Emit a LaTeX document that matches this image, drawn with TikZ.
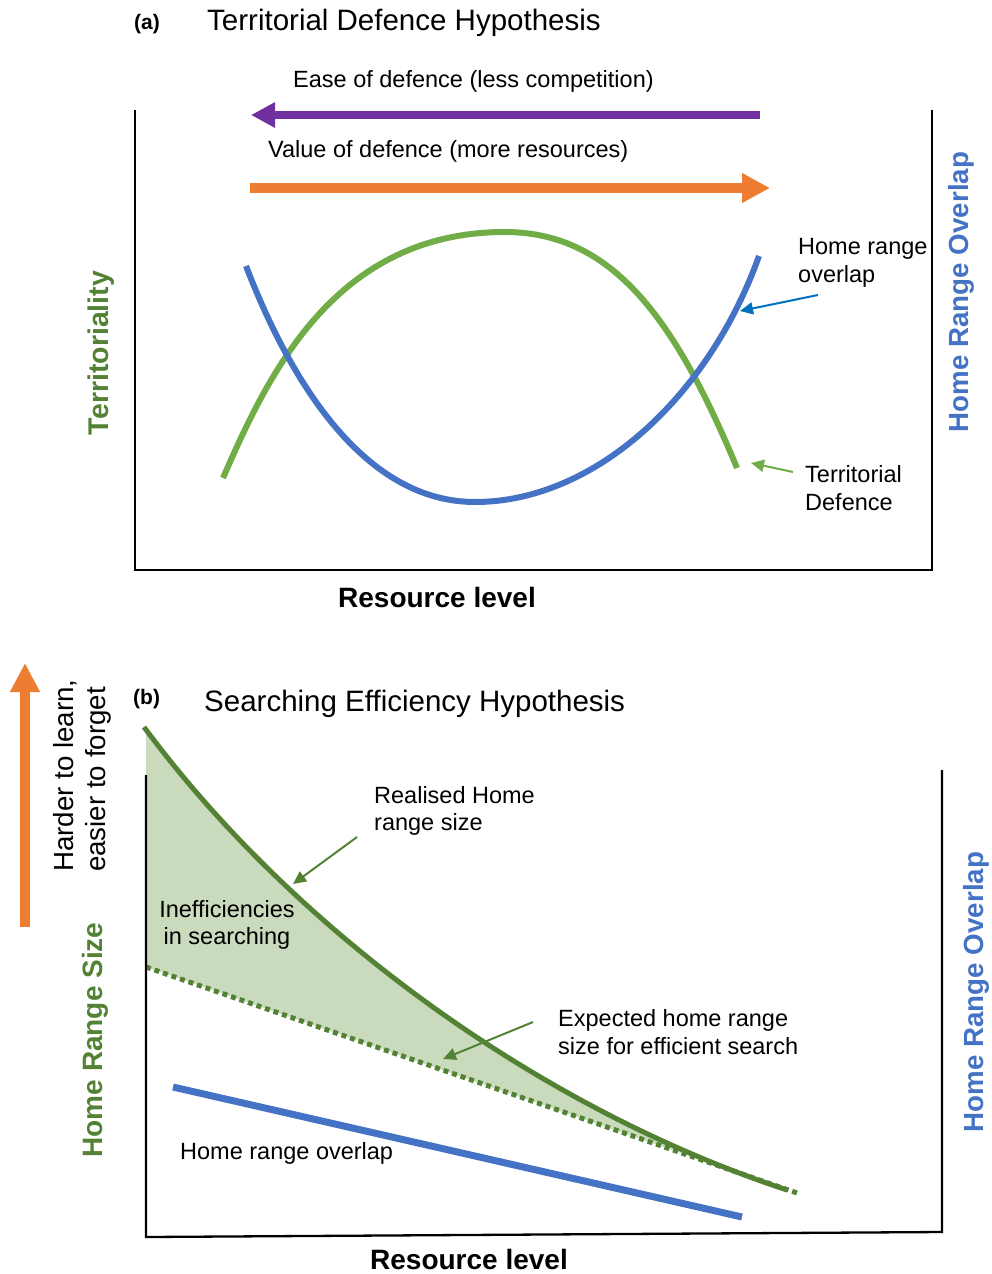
\documentclass[tikz,border=0pt]{standalone}
\usepackage{fontspec}
\setmainfont{Liberation Sans}
\usetikzlibrary{arrows.meta}
\definecolor{tgreen}{HTML}{70AD47}
\definecolor{dgreen}{HTML}{548235}
\definecolor{tblue}{HTML}{4472C4}
\definecolor{ablue}{HTML}{0070C0}
\definecolor{tpurple}{HTML}{7030A0}
\definecolor{torange}{HTML}{ED7D31}
\definecolor{fillgreen}{HTML}{C9DABD}
\tikzset{
  axisline/.style={line width=2.3pt, black},
  ttl/.style={inner sep=0pt, anchor=west, font=\fontsize{29.5}{34}\selectfont},
  plabel/.style={inner sep=0pt, anchor=west, font=\bfseries\fontsize{21}{24}\selectfont},
  ann/.style={inner sep=0pt, anchor=west, align=left, font=\fontsize{23.5}{27.3}\selectfont},
  axlab/.style={inner sep=0pt, font=\bfseries\fontsize{28}{32}\selectfont},
  vlab/.style={inner sep=0pt, rotate=90, font=\bfseries\fontsize{27.7}{32}\selectfont},
  curveA/.style={line width=6pt},
  pointer/.style={line width=2pt, -{Triangle[length=13pt,width=12pt]}},
}
\begin{document}
\begin{tikzpicture}[x=1pt,y=-1pt]
\useasboundingbox (0,0) rectangle (991,1274);
% ---------------- Panel (a) ----------------
\node[plabel] (alab) at (134,24) {(a)};
\node[ttl] (atitle) at (207,23) {Territorial Defence Hypothesis};
\node[ann] (ease) at (293,81) {Ease of defence (less competition)};
\node[ann] (value) at (268,151) {Value of defence (more resources)};
\coordinate (pus) at (760,115);
\coordinate (pue) at (251,115);
\draw[line width=8pt, tpurple, -{Triangle[length=24pt,width=24pt]}] (pus) -- (pue);
\coordinate (ors) at (250,188);
\coordinate (ore) at (770,188);
\draw[line width=10pt, torange, -{Triangle[length=28pt,width=28pt]}] (ors) -- (ore);
% axes
\coordinate (atl) at (135,110);
\coordinate (abl) at (135,570);
\coordinate (abr) at (932,570);
\coordinate (atr) at (932,110);
\draw[axisline] (atl) -- (abl) -- (abr) -- (atr);
% curves
\coordinate (gs) at (223,478);
\coordinate (gpk) at (505,232);
\coordinate (ge) at (737,468);
\draw[curveA, tgreen] (gs) .. controls (268,374.5) and (335,232) .. (gpk)
                           .. controls (615,232) and (677,324) .. (ge);
\coordinate (bs) at (246,266);
\coordinate (bmin) at (475,502);
\coordinate (be) at (759,256);
\draw[curveA, tblue] (bs) .. controls (291,383) and (365,502) .. (bmin)
                          .. controls (595,502) and (709,396) .. (be);
% annotations
\node[ann] (hro) at (798,263) {Home range\\overlap};
\coordinate (hrot) at (818,295);
\coordinate (hrop) at (740,311);
\draw[pointer, ablue] (hrot) -- (hrop);
\node[ann] (tdl) at (805,488) {Territorial\\Defence};
\coordinate (tdt) at (793,472);
\coordinate (tdp) at (751,463);
\draw[pointer, tgreen] (tdt) -- (tdp);
\node[vlab, text=dgreen, font=\bfseries\fontsize{28.5}{32}\selectfont] (terr) at (101,353) {Territoriality};
\node[vlab, text=tblue] (hroa) at (961,292) {Home Range Overlap};
\node[axlab] (resa) at (437,597) {Resource level};
% ---------------- Panel (b) ----------------
\node[plabel] (blab) at (133,699) {(b)};
\node[ttl] (btitle) at (204,704) {Searching Efficiency Hypothesis};
\coordinate (obs) at (25,927);
\coordinate (obe) at (25,663);
\draw[line width=9.5pt, torange, -{Triangle[length=29pt,width=28pt]}] (obs) -- (obe);
\node[inner sep=0pt, rotate=90, anchor=base west, font=\fontsize{27.7}{32}\selectfont] (hard1) at (73,872) {Harder to learn,};
\node[inner sep=0pt, rotate=90, anchor=base west, font=\fontsize{27.7}{32}\selectfont] (hard2) at (105,872) {easier to forget};
% fill
\coordinate (rs) at (144,727);
\coordinate (re) at (787,1190);
\coordinate (exs) at (146,967);
\coordinate (exe) at (797,1193);
\fill[fillgreen] (rs) .. controls (294,929.5) and (537,1107.5) .. (re) -- (exs) -- (146,727) -- cycle;
% dotted expected line
\draw[dgreen, line width=5pt, dash pattern=on 5pt off 4pt] (exs) -- (exe);
% realised curve
\draw[dgreen, line width=5pt] (rs) .. controls (294,929.5) and (537,1107.5) .. (re);
% blue line
\coordinate (bls) at (173,1087);
\coordinate (ble) at (742,1217);
\draw[tblue, line width=7pt] (bls) -- (ble);
% axes
\coordinate (btl) at (146,775);
\coordinate (bbl) at (146,1237);
\coordinate (bbr) at (942,1232);
\coordinate (btr) at (942,770);
\draw[axisline] (btl) -- (bbl) -- (bbr) -- (btr);
% annotations
\node[ann] (real) at (374,811) {Realised Home\\range size};
\coordinate (rlt) at (357,837);
\coordinate (rlp) at (293,884);
\draw[pointer, dgreen] (rlt) -- (rlp);
\node[ann, align=center, anchor=center] (ineff) at (227,925) {Inefficiencies\\in searching};
\node[ann] (expl) at (558,1032) {Expected home range\\size for efficient search};
\coordinate (ext) at (533,1022);
\coordinate (exp) at (443,1059);
\draw[pointer, dgreen] (ext) -- (exp);
\node[ann] (hrol) at (180,1153) {Home range overlap};
\node[vlab, text=dgreen, font=\bfseries\fontsize{28}{32}\selectfont] (hrs) at (95,1040) {Home Range Size};
\node[vlab, text=tblue] (hrob) at (976,992) {Home Range Overlap};
\node[axlab] (resb) at (469,1259) {Resource level};
\end{tikzpicture}
\end{document}
